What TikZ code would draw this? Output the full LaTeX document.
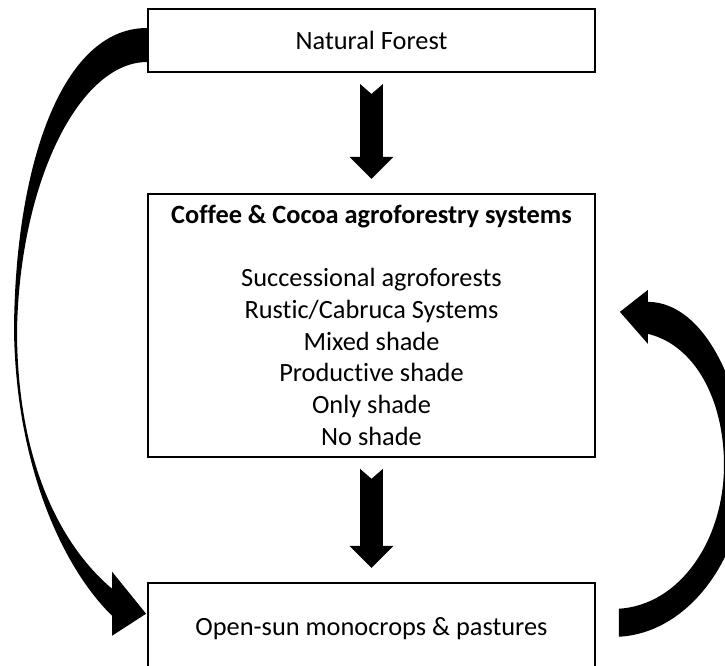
\documentclass[tikz,border=0pt]{standalone}
\usepackage{fontspec}
\setmainfont{Carlito}[Ligatures=NoCommon]
\usetikzlibrary{calc,positioning}

% fat block arrow with a notched tail, pointing down from #1 to #2
\newcommand{\fatarrow}[2]{%
	\fill let \p1=($(#1.south)+(0,-0.22cm)$), \p2=($(#2.north)+(0,0.28cm)$) in
	(\x1-0.23cm,\y1) -- (\x1,\y1-0.2cm) -- (\x1+0.23cm,\y1)
	-- (\x1+0.23cm,\y2+0.44cm) -- (\x1+0.44cm,\y2+0.44cm) -- (\x1,\y2)
	-- (\x1-0.44cm,\y2+0.44cm) -- (\x1-0.23cm,\y2+0.44cm) -- cycle;}

\begin{document}
\begin{tikzpicture}[
		x=0.02cm, y=0.02cm,
		font=\fontsize{15}{18}\selectfont,
		stage/.style={draw=black, fill=white, line width=1.1pt,
				minimum width=8.94cm, align=center, inner sep=0pt},
	]
	\useasboundingbox (0,0) rectangle (725,666);
	\clip (0,0) rectangle (725,666);

	\node[stage, minimum height=1.26cm] (forest) at (371.5,625.5) {Natural Forest};

	\node[stage, minimum height=5.26cm, below=2.4cm of forest] (agro)
	{\textbf{Coffee \& Cocoa agroforestry systems}\\[18pt]
		Successional agroforests\\
		Rustic/Cabruca Systems\\
		Mixed shade\\
		Productive shade\\
		Only shade\\
		No shade};

	\node[stage, minimum height=1.84cm, below=2.48cm of agro] (sun)
	{Open-sun monocrops \& pastures};

	\fatarrow{forest}{agro}
	\fatarrow{agro}{sun}

	% forest straight to open sun, round the left side
	\fill ($(forest.west)+(0,12.5)$) .. controls (60,638) and (15,496) .. (14,336)
	.. controls (16,196) and (65,96) .. ($(sun.west)+(-35,13)$)
	-- ($(sun.west)+(-35,-7)$) -- ($(sun.west)+(-1,15)$)
	-- ($(sun.west)+(-35,57)$) -- ($(sun.west)+(-35,40)$)
	.. controls (60,121) and (17,206) .. (17,336)
	.. controls (20,486) and (80,604) .. ($(forest.west)+(0,-21.5)$) -- cycle;

	% open sun back to agroforestry, round the right side
	\fill ($(sun.east)+(23,-8)$) .. controls (690,33) and (745,111) .. (745,196)
	.. controls (745,276) and (705,364) .. ($(agro.east)+(52,23.5)$)
	-- ($(agro.east)+(52,35.5)$) -- ($(agro.east)+(24,13.5)$)
	-- ($(agro.east)+(52,-18.5)$) -- ($(agro.east)+(52,-8.5)$)
	.. controls (695,321) and (724,266) .. (724,201)
	.. controls (724,126) and (680,61) .. ($(sun.east)+(23,20)$) -- cycle;

\end{tikzpicture}
\end{document}
